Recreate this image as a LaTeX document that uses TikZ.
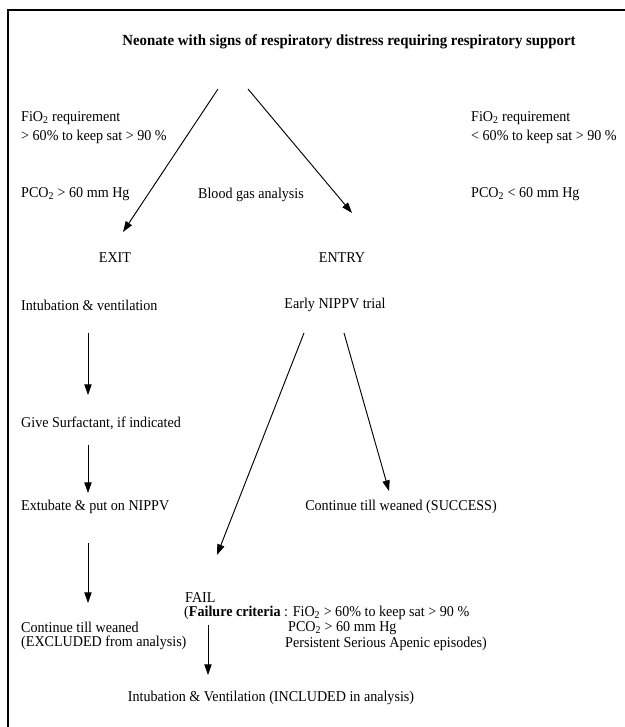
\documentclass[tikz,border=0pt]{standalone}
\usepackage{fontspec}
\setmainfont{Liberation Serif}[FakeStretch=0.94]
\newfontfamily\titlefont{Liberation Serif}[FakeStretch=0.96]
\usetikzlibrary{arrows.meta}
\begin{document}
\begin{tikzpicture}[x=0.03cm,y=-0.03cm,
  txt/.style={inner sep=0pt,font=\fontsize{12.8}{15}\selectfont},
  lt/.style={txt,anchor=west},
  arr/.style={line width=0.8pt,-{Triangle[length=3.2mm,width=2.2mm]}},
  frame/.style={line width=2.2pt}]
\useasboundingbox (0,0) rectangle (625,727);
\fill[white] (0,0) rectangle (625,727);
\draw[frame] (8,727) -- (8,10) -- (625,10);

\node[txt,font=\titlefont\fontsize{13.2}{15}\selectfont\bfseries] (title) at (349,42) {Neonate with signs of respiratory distress requiring respiratory support};

\node[lt] (lreq) at (21,118) {FiO\textsubscript{2} requirement};
\node[lt] (lreqb) at (21,137) {> 60\% to keep sat > 90 \%};
\node[lt] (lpco) at (21,194) {PCO\textsubscript{2} > 60 mm Hg};
\node[lt] (rreq) at (471,118) {FiO\textsubscript{2} requirement};
\node[lt] (rreqb) at (471,137) {< 60\% to keep sat > 90 \%};
\node[lt] (rpco) at (471,194) {PCO\textsubscript{2} < 60 mm Hg};
\node[txt] (bga) at (251,195) {Blood gas analysis};

\node[txt] (exit) at (115,258) {EXIT};
\node[txt] (entry) at (342,258) {ENTRY};

\node[lt] (intub) at (21,305) {Intubation \& ventilation};
\node[txt] (early) at (335,305) {Early NIPPV trial};
\node[lt] (surf) at (21,423) {Give Surfactant, if indicated};
\node[lt] (extub) at (21,507) {Extubate \& put on NIPPV};
\node[txt] (success) at (401,507) {Continue till weaned (SUCCESS)};
\node[lt] (cont) at (21,627) {Continue till weaned};
\node[lt] (contb) at (21,643) {(EXCLUDED from analysis)};

\node[lt] (fail) at (185,598) {FAIL};
\node[lt] (crit1) at (184,613) {(\textbf{Failure criteria} : FiO\textsubscript{2} > 60\% to keep sat > 90 \%};
\node[lt] (crit2) at (288,628) {PCO\textsubscript{2} > 60 mm Hg};
\node[lt] (crit3) at (285,644) {Persistent Serious Apenic episodes)};
\node[txt] (incl) at (271,698) {Intubation \& Ventilation (INCLUDED in analysis)};

\coordinate (t1) at (218,89);
\coordinate (t2) at (248,89);
\coordinate (e1) at (123,232);
\coordinate (e2) at (352,213);
\coordinate (n1) at (304,333);
\coordinate (n2) at (344,333);
\coordinate (f1) at (217,555);
\coordinate (s1) at (389,491);
\coordinate (a1s) at (88,333);
\coordinate (a1e) at (88,395);
\coordinate (a2s) at (88,445);
\coordinate (a2e) at (88,493);
\coordinate (a3s) at (88,543);
\coordinate (a3e) at (88,603);
\coordinate (a4s) at (208,625);
\coordinate (a4e) at (208,675);

\draw[arr] (t1) -- (e1);
\draw[arr] (t2) -- (e2);
\draw[arr] (a1s) -- (a1e);
\draw[arr] (a2s) -- (a2e);
\draw[arr] (a3s) -- (a3e);
\draw[arr] (n1) -- (f1);
\draw[arr] (n2) -- (s1);
\draw[arr] (a4s) -- (a4e);
\end{tikzpicture}
\end{document}
